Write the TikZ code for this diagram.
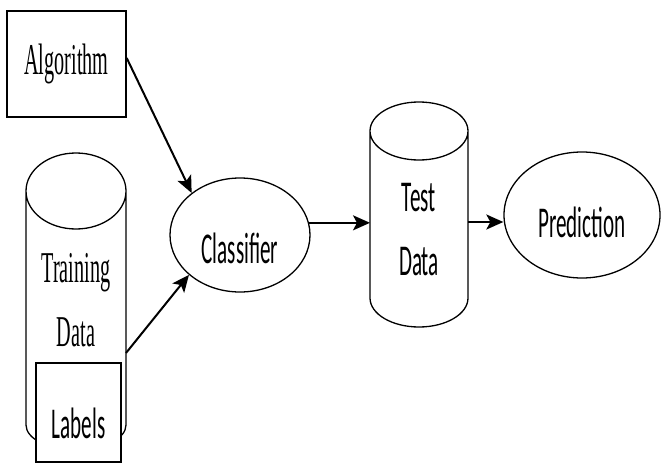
\documentclass[tikz,border=0pt]{standalone}
\usepackage{fontspec}
\setmainfont{Liberation Serif}
\newfontfamily\narrowserif[FakeStretch=0.46]{Liberation Serif}
\newfontfamily\narrowsans[FakeStretch=0.48]{Carlito}
\usetikzlibrary{shapes.geometric, arrows.meta, positioning}
\tikzset{
	box/.style={draw, rectangle, line width=1.4pt, inner sep=0pt},
	blob/.style={draw, ellipse, line width=1.3pt, inner sep=0pt, text depth=0pt},
	drum/.style={inner sep=0pt, align=center},
	can/.style={line width=1.3pt},
	serifbig/.style={font=\narrowserif\fontsize{44}{64}\selectfont},
	sansbig/.style={font=\narrowsans\fontsize{44}{64}\selectfont},
	flow/.style={-{Stealth[length=17pt,width=15pt,inset=4pt]}, line width=2pt}, % bold filled heads
}
% cylinder round a node: #2 x radius, #3/#4 top centre and radius, #5/#6 bottom centre and radius
\newcommand{\drumcan}[6]{%
	\draw[can] ([xshift=-#2,yshift=#3]#1.center) -- ([xshift=-#2,yshift=-#5]#1.center)
		arc[start angle=180, end angle=360, x radius=#2, y radius=#6]
		-- ([xshift=#2,yshift=#3]#1.center)
		arc[start angle=0, end angle=180, x radius=#2, y radius=#4]
		arc[start angle=180, end angle=360, x radius=#2, y radius=#4];}
\begin{document}
\begin{tikzpicture}[x=1pt, y=1pt]
	\useasboundingbox (0,0) rectangle (661,-463);
	% Inputs
	\node[box, serifbig, minimum width=119pt, minimum height=106pt] (alg) at (66.5,-64) {Algorithm};
	\node[drum, serifbig] (trn) at (76,-300) {Training\\Data};
	\drumcan{trn}{50pt}{109pt}{38pt}{125pt}{25pt}
	\node[box, sansbig, fill=white, text height=51pt, text depth=0pt, minimum width=85pt, minimum height=99pt] (lab) at (78.5,-412.5) {Labels};
	% Model and outputs
	\node[blob, sansbig, text height=56pt, minimum width=140pt, minimum height=114pt] (cls) at (240,-235) {Classifier};
	\node[drum, sansbig] (tst) at (419,-230) {Test\\Data};
	\drumcan{tst}{49pt}{99pt}{29pt}{68pt}{29pt}
	\node[blob, sansbig, text height=45pt, minimum width=156pt, minimum height=126pt] (prd) at (582,-215) {Prediction};
	\coordinate (algout) at ([yshift=6pt]alg.east);
	\coordinate (trnout) at ([xshift=50pt,yshift=-53pt]trn.center);
	\coordinate (tstin) at ([xshift=-49pt]tst.center);
	\coordinate (tstout) at ([xshift=49pt,yshift=8pt]tst.center);
	% Connectors
	\draw[flow] (algout) -- (cls.139);
	\draw[flow] (trnout) -- (cls.218);
	\draw[flow] (cls.10) -- (cls.10 -| tstin);
	\draw[flow] (tstout) -- (tstout -| prd.west);
\end{tikzpicture}
\end{document}
